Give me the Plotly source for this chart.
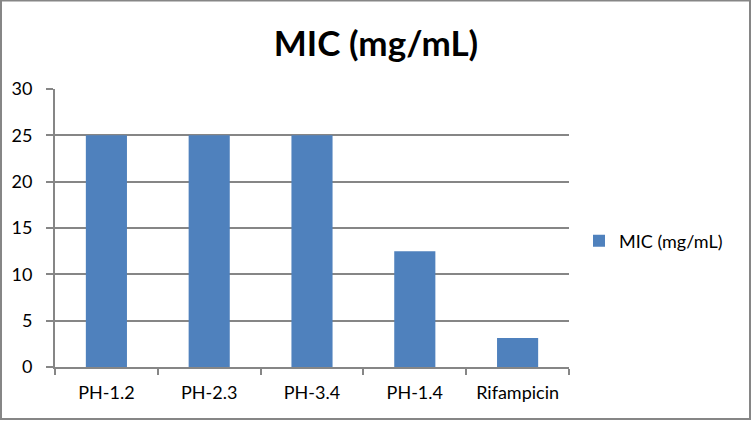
import plotly.graph_objects as go

categories = ['PH-1.2', 'PH-2.3', 'PH-3.4', 'PH-1.4', 'Rifampicin']
mic_values = [25, 25, 25, 12.5, 3.125]
y_ticks = [0, 5, 10, 15, 20, 25, 30]

W, H = 752, 421
ml, mr, mt, mb = 55, 183, 89, 54
pw, ph = W - ml - mr, H - mt - mb

grey = '#868686'
fnt = 'Lato, "Open Sans", sans-serif'

fig = go.Figure()
fig.add_trace(go.Bar(x=categories, y=mic_values, name='MIC (mg/mL)',
                     marker=dict(color='#4f81bd', line=dict(width=0)),
                     showlegend=True))

fig.update_layout(
  width=W, height=H,
  margin=dict(l=ml, r=mr, t=mt, b=mb, autoexpand=False),
  paper_bgcolor='white', plot_bgcolor='white',
  font=dict(family=fnt, size=18, color='black'),
  title=dict(text='<b>MIC (mg/mL)</b>', x=0.5, xanchor='center', y=1 - 44 / H, yanchor='middle',
             font=dict(size=35, family=fnt, color='black')),
  bargap=0.6,
  legend=dict(x=(579 - ml) / pw, xanchor='left', y=(H - mb - 241) / ph, yanchor='middle',
              font=dict(size=18), bgcolor='rgba(0,0,0,0)', itemwidth=30),
  xaxis=dict(showline=True, linecolor=grey, linewidth=2, ticks='outside', tickson='boundaries',
             tickcolor=grey, tickwidth=2, ticklen=6, showgrid=False, automargin=False,
             ticklabelstandoff=8, tickfont=dict(size=18)),
  yaxis=dict(range=[0, 30], tickvals=y_ticks, showline=True, linecolor=grey, linewidth=2,
             showgrid=True, gridcolor=grey, gridwidth=2, ticks='outside', tickcolor=grey,
             tickwidth=2, ticklen=7, zeroline=False, automargin=False,
             ticklabelstandoff=10, tickfont=dict(size=18)),
  shapes=[dict(type='rect', xref='paper', yref='paper',
               x0=(1 - ml) / pw, x1=(W - 2 - ml) / pw,
               y0=-(mb - 2) / ph, y1=(ph + mt - 0.5) / ph,
               line=dict(color=grey, width=2), layer='below')],
)

# browser default body margin shifts the figure by 8px
fig.write_html('out.html', config={'displayModeBar': False},
               post_script="document.body.style.margin='0';")
